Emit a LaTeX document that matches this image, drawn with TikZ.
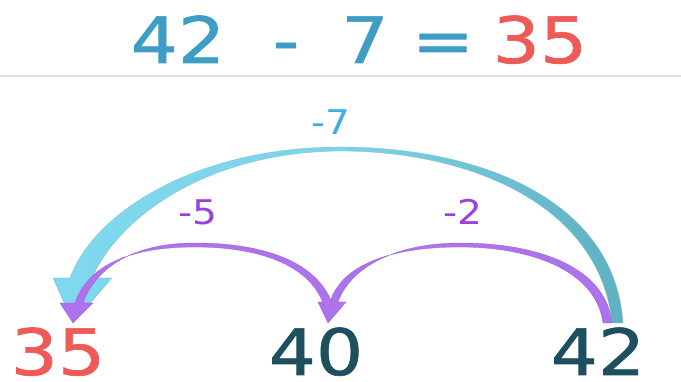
\documentclass[tikz,border=0pt]{standalone}
\usepackage{fontspec}
\setmainfont{DejaVu Sans}
\newfontfamily\numfont[FakeBold=1]{DejaVu Sans}
\definecolor{titleblue}{HTML}{3D9DC4}
\definecolor{redno}{HTML}{EE5A55}
\definecolor{darkno}{HTML}{1E4F5E}
\definecolor{lblblue}{HTML}{3BB0E6}
\definecolor{lblpurple}{HTML}{9A3FE0}
\definecolor{arrcyan}{HTML}{80D8EE}
\definecolor{arrteal}{HTML}{5FB0C0}
\definecolor{arrpurple}{HTML}{AE72EE}
\definecolor{rulegray}{HTML}{E2E2E2}
\begin{document}
\begin{tikzpicture}[x=1pt,y=-1pt,
  bignum/.style={inner sep=0pt,anchor=base,text depth=0pt,font=\numfont\fontsize{64}{68}\selectfont},
  lbl/.style={inner sep=0pt,anchor=base,font=\fontsize{34}{38}\selectfont},
  purplearrow/.style={fill=arrpurple,draw=arrpurple!85!black,line width=0.3pt}]
\useasboundingbox (0,0) rectangle (681,382);
\fill[white] (0,0) rectangle (681,382);
% title
\node[bignum,text=titleblue] (t42) at (178,63) {\scalebox{1.16}[1]{42}};
\node[bignum,text=titleblue] (tminus) at (286,63) {\scalebox{1.16}[1]{-}};
\node[bignum,text=titleblue] (t7) at (365,63) {\scalebox{1.16}[1]{7}};
\node[bignum,text=titleblue] (teq) at (443,63) {\scalebox{1.16}[1]{=}};
\node[bignum,text=redno] (t35) at (540,63) {\scalebox{1.16}[1]{35}};
\coordinate (rl) at (0,76);
\coordinate (rr) at (681,76);
\draw[rulegray,line width=1.5pt] (rl) -- (rr);
% blue arrow
\shade[left color=arrcyan,right color=arrteal,middle color=arrcyan!90!arrteal,draw=arrteal!80!white,line width=0.3pt]
 (623,323) .. controls (615,200) and (480,147) .. (340,147)
 .. controls (200,147) and (95,210) .. (70,278)
 -- (53,278) -- (73,323) -- (112,278) -- (92,278)
 .. controls (120,215) and (210,152) .. (340,151)
 .. controls (470,151) and (600,205) .. (612,323) -- cycle;
% purple arrow -2
\path[purplearrow]
 (612,323) .. controls (606,268) and (540,243) .. (460,243)
 .. controls (395,243) and (350,268) .. (338,302)
 -- (346,302) -- (328,323) -- (318,302) -- (330,302)
 .. controls (342,264) and (392,247) .. (460,247)
 .. controls (530,247) and (596,270) .. (603,323) -- cycle;
% purple arrow -5
\path[purplearrow]
 (333,306) .. controls (320,265) and (270,243) .. (195,243)
 .. controls (130,243) and (95,270) .. (83,303)
 -- (93,303) -- (73,323) -- (60,303) -- (75,303)
 .. controls (88,265) and (130,247) .. (195,247)
 .. controls (265,247) and (312,268) .. (324,306) -- cycle;
% labels
\node[lbl,text=lblblue] (l7) at (331,135) {\scalebox{1.15}[1]{-7}};
\node[lbl,text=lblpurple] (l5) at (198,225) {\scalebox{1.15}[1]{-5}};
\node[lbl,text=lblpurple] (l2) at (463,225) {\scalebox{1.15}[1]{-2}};
% numbers
\node[bignum,text=redno] (n35) at (58,375) {\scalebox{1.16}[1]{35}};
\node[bignum,text=darkno] (n40) at (316,375) {\scalebox{1.16}[1]{40}};
\node[bignum,text=darkno] (n42) at (598,375) {\scalebox{1.16}[1]{42}};
\end{tikzpicture}
\end{document}
